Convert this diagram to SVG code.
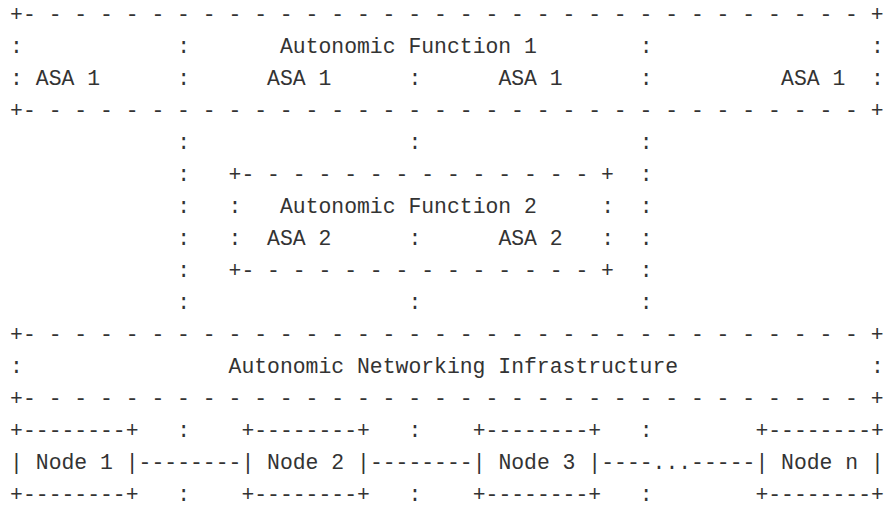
<svg xmlns="http://www.w3.org/2000/svg" width="886" height="506" viewBox="0 0 886 506" xml:space="preserve">
<style>
  text { font-family: "Liberation Mono", "DejaVu Sans Mono", monospace; font-size: 21.42px; fill: #333333; white-space: pre; }
</style>
<rect width="886" height="506" fill="#ffffff"/>
<g id="autonomic-function-1">
  <text x="10.1" y="20.5">+- - - - - - - - - - - - - - - - - - - - - - - - - - - - - - - - - +</text>
  <text x="10.1" y="52.55">:</text>
  <text x="177.15" y="52.55">:</text>
  <text x="279.95" y="52.55">Autonomic Function 1</text>
  <text x="639.75" y="52.55">:</text>
  <text x="871.05" y="52.55">:</text>
  <text x="10.1" y="84.6">:</text>
  <text x="35.8" y="84.6">ASA 1</text>
  <text x="177.15" y="84.6">:</text>
  <text x="267.1" y="84.6">ASA 1</text>
  <text x="408.45" y="84.6">:</text>
  <text x="498.4" y="84.6">ASA 1</text>
  <text x="639.75" y="84.6">:</text>
  <text x="781.1" y="84.6">ASA 1</text>
  <text x="871.05" y="84.6">:</text>
  <text x="10.1" y="116.65">+- - - - - - - - - - - - - - - - - - - - - - - - - - - - - - - - - +</text>
</g>
<g id="autonomic-function-2">
  <text x="228.55" y="180.75">+- - - - - - - - - - - - - - +</text>
  <text x="228.55" y="212.8">:</text>
  <text x="279.95" y="212.8">Autonomic Function 2</text>
  <text x="601.2" y="212.8">:</text>
  <text x="228.55" y="244.85">:</text>
  <text x="267.1" y="244.85">ASA 2</text>
  <text x="408.45" y="244.85">:</text>
  <text x="498.4" y="244.85">ASA 2</text>
  <text x="601.2" y="244.85">:</text>
  <text x="228.55" y="276.9">+- - - - - - - - - - - - - - +</text>
</g>
<g id="autonomic-networking-infrastructure">
  <text x="10.1" y="341">+- - - - - - - - - - - - - - - - - - - - - - - - - - - - - - - - - +</text>
  <text x="10.1" y="373.05">:</text>
  <text x="228.55" y="373.05">Autonomic Networking Infrastructure</text>
  <text x="871.05" y="373.05">:</text>
  <text x="10.1" y="405.1">+- - - - - - - - - - - - - - - - - - - - - - - - - - - - - - - - - +</text>
</g>
<g id="node-1">
  <text x="10.1" y="437.15">+--------+</text>
  <text x="10.1" y="469.2">| Node 1 |</text>
  <text x="10.1" y="501.25">+--------+</text>
</g>
<g id="node-2">
  <text x="241.4" y="437.15">+--------+</text>
  <text x="241.4" y="469.2">| Node 2 |</text>
  <text x="241.4" y="501.25">+--------+</text>
</g>
<g id="node-3">
  <text x="472.7" y="437.15">+--------+</text>
  <text x="472.7" y="469.2">| Node 3 |</text>
  <text x="472.7" y="501.25">+--------+</text>
</g>
<g id="node-n">
  <text x="755.4" y="437.15">+--------+</text>
  <text x="755.4" y="469.2">| Node n |</text>
  <text x="755.4" y="501.25">+--------+</text>
</g>
<g id="connectors">
  <text x="177.15" y="148.7">:</text>
  <text x="408.45" y="148.7">:</text>
  <text x="639.75" y="148.7">:</text>
  <text x="177.15" y="180.75">:</text>
  <text x="639.75" y="180.75">:</text>
  <text x="177.15" y="212.8">:</text>
  <text x="639.75" y="212.8">:</text>
  <text x="177.15" y="244.85">:</text>
  <text x="639.75" y="244.85">:</text>
  <text x="177.15" y="276.9">:</text>
  <text x="639.75" y="276.9">:</text>
  <text x="177.15" y="308.95">:</text>
  <text x="408.45" y="308.95">:</text>
  <text x="639.75" y="308.95">:</text>
  <text x="177.15" y="437.15">:</text>
  <text x="408.45" y="437.15">:</text>
  <text x="639.75" y="437.15">:</text>
  <text x="138.6" y="469.2">--------</text>
  <text x="369.9" y="469.2">--------</text>
  <text x="601.2" y="469.2">----...-----</text>
  <text x="177.15" y="501.25">:</text>
  <text x="408.45" y="501.25">:</text>
  <text x="639.75" y="501.25">:</text>
</g>
</svg>
